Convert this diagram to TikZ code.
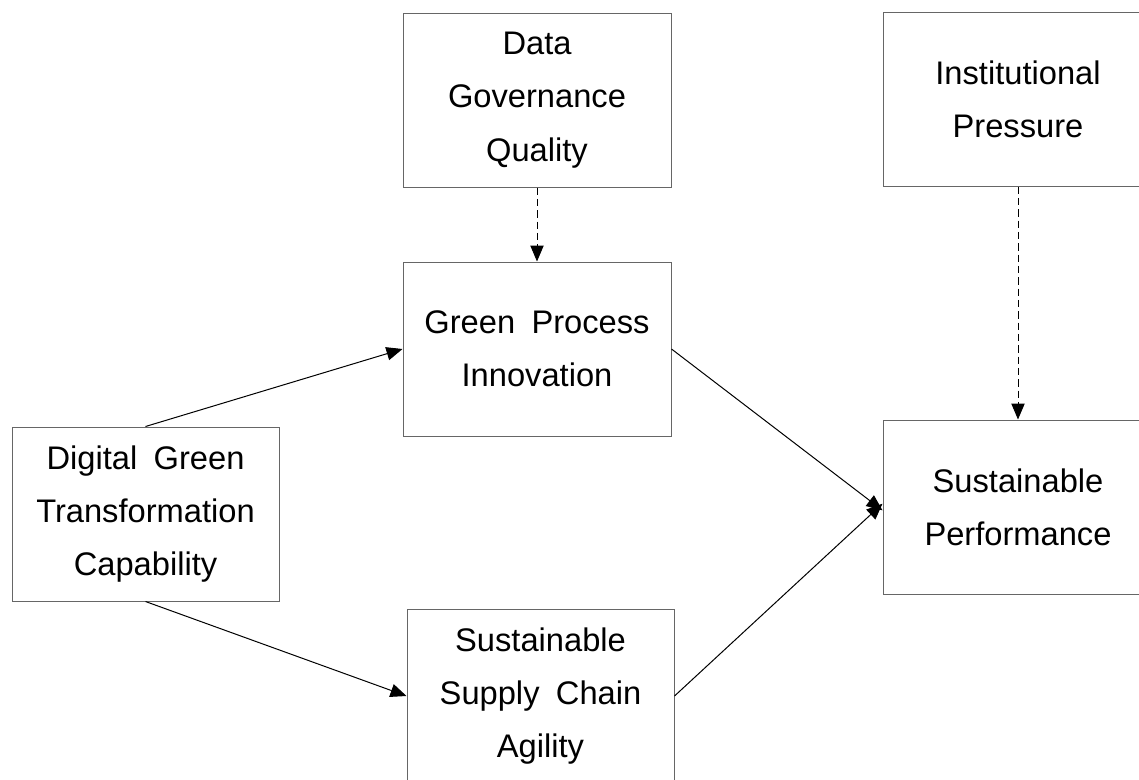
\documentclass[tikz,border=0pt]{standalone}
\usepackage{fontspec}
\setmainfont{Liberation Sans}
\usetikzlibrary{arrows.meta}

\tikzset{
  varbox/.style={draw=black!60, line width=0.75pt, minimum width=268*0.75pt, minimum height=174*0.75pt,
    inner sep=0pt, align=center, font=\fontsize{24.5}{40}\selectfont},
  path/.style={draw=black, line width=0.75pt, -{Triangle[length=12pt,width=10pt]}},
  moderate/.style={path, dash pattern=on 5.5pt off 3pt}
}

\begin{document}
\begin{tikzpicture}[x=0.75pt,y=0.75pt,yscale=-1,xscale=1]
    \clip (0,0) rectangle (1139,779);
    \fill[white] (0,0) rectangle (1139,779);

    % Text Node
    \node [varbox] (dgq) at (537,100) {Data\\Governance\\Quality};
    % Text Node
    \node [varbox, minimum width=270*0.75pt] (ip) at (1018,99) {Institutional\\Pressure};
    % Text Node
    \node [varbox] (gpi) at (537,349) {Green\enspace Process\\Innovation};
    % Text Node
    \node [varbox, minimum width=267*0.75pt] (dgtc) at (145.5,514) {Digital\enspace Green\\Transformation\\Capability};
    % Text Node
    \node [varbox, minimum width=270*0.75pt] (sp) at (1018,507) {Sustainable\\Performance};
    % Text Node
    \node [varbox, minimum width=267*0.75pt] (ssca) at (540.5,696) {Sustainable\\Supply\enspace Chain\\Agility};

    %Straight Lines
    \draw [path] (dgtc.north) -- (gpi.west);
    %Straight Lines
    \draw [path] (dgtc.south) -- (ssca.west);
    %Straight Lines
    \draw [path] (gpi.east) -- ([yshift=2.5pt]sp.west);
    %Straight Lines
    \draw [path] (ssca.east) -- ([yshift=-2.5pt]sp.west);
    %Dashed Lines
    \draw [moderate] (dgq.south) -- (gpi.north);
    %Dashed Lines
    \draw [moderate] (ip.south) -- (sp.north);
\end{tikzpicture}
\end{document}
